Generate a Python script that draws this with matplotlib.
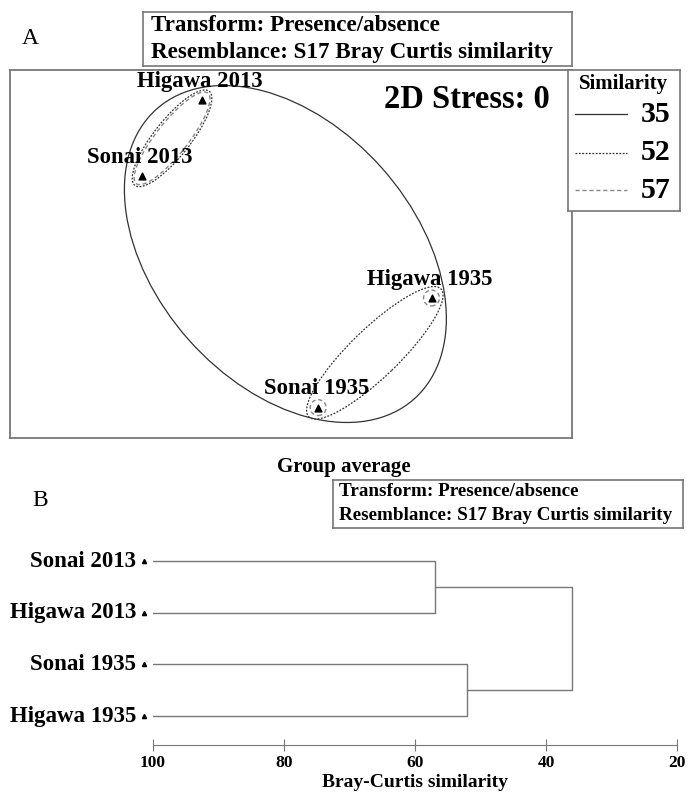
import numpy as np
import matplotlib
matplotlib.use('Agg')
import matplotlib.pyplot as plt
from matplotlib.patches import Ellipse

plt.rcParams['font.family'] = ['Liberation Serif', 'DejaVu Serif']

W, H = 688, 793

# nMDS ordination (panel A)
sites = ['Higawa 2013', 'Sonai 2013', 'Higawa 1935', 'Sonai 1935']
mds_x = [-0.475, -0.795, 0.75, 0.145]
mds_y = [0.82, 0.415, -0.235, -0.82]
stress = 0

# cluster dendrogram (panel B), top to bottom
leaves = ['Sonai 2013', 'Higawa 2013', 'Sonai 1935', 'Higawa 1935']
join_2013 = 57.0
join_1935 = 52.1
join_all = 36.1
sim_levels = [35, 52, 57]
sim_ticks = [100, 80, 60, 40, 20]

GREY = '#777777'
fig = plt.figure(figsize=(W / 100, H / 100), dpi=100)


def fbox(x0, y0, x1, y1):
    # pixel box (top-left origin) -> figure fraction rect
    return [x0 / W, 1 - y1 / H, (x1 - x0) / W, (y1 - y0) / H]


def text_box(x0, y0, x1, y1, lines, size):
    bx = fig.add_axes(fbox(x0, y0, x1, y1))
    bx.set_xticks([])
    bx.set_yticks([])
    for s in bx.spines.values():
        s.set_edgecolor(GREY)
        s.set_linewidth(1.2)
    n = len(lines)
    for i, t in enumerate(lines):
        bx.text(0.018, 1 - (i + 0.5) / n, t, transform=bx.transAxes, ha='left', va='center',
                fontsize=size, fontweight='bold')
    return bx


style = {35: dict(color='#333333', ls='-', lw=0.9),
         52: dict(color='#333333', ls=(0, (1.5, 1.2)), lw=0.9),
         57: dict(color='#888888', ls=(0, (3, 2)), lw=1.0)}

# ---------- panel A ----------
fig.text(30 / W, 1 - 38 / H, 'A', fontsize=17, ha='center', va='center')
text_box(143, 12, 572, 66, ['Transform: Presence/absence', 'Resemblance: S17 Bray Curtis similarity'], 16.6)

ax = fig.add_axes(fbox(10, 70, 572, 438))
ax.set_xlim(-1.5, 1.5)
ax.set_ylim(-0.9822, 0.9822)
ax.set_xticks([])
ax.set_yticks([])
for s in ax.spines.values():
    s.set_edgecolor(GREY)
    s.set_linewidth(1.3)

ax.scatter(mds_x, mds_y, marker='^', s=24, color='black', zorder=5)


def pair_ellipse(i, j, pad_long, pad_short, level):
    x = np.array([mds_x[i], mds_x[j]])
    y = np.array([mds_y[i], mds_y[j]])
    half = np.hypot(x[1] - x[0], y[1] - y[0]) / 2
    ang = np.degrees(np.arctan2(y[1] - y[0], x[1] - x[0]))
    e = Ellipse((x.mean(), y.mean()), 2 * (half + pad_long), 2 * pad_short, angle=ang,
                fill=False, **style[level])
    ax.add_patch(e)


# 2013 samples joined at 57 and at 52
pair_ellipse(1, 0, 0.05, 0.085, 57)
pair_ellipse(1, 0, 0.062, 0.097, 52)
# 1935 samples joined at 52, separate at 57
pair_ellipse(3, 2, 0.07, 0.13, 52)
for k in (2, 3):
    ax.add_patch(Ellipse((mds_x[k], mds_y[k]), 0.085, 0.085, fill=False, **style[57]))
# everything joined at 35
ax.add_patch(Ellipse((-0.03, 0.0), 2.07, 1.38, angle=-48.4, fill=False, **style[35]))

for name, x, y in zip(sites, mds_x, mds_y):
    ax.text(x - 0.01, y + 0.1, name, ha='center', va='center', fontsize=16.4, fontweight='bold')

ax.text(0.961, 0.92, f'2D Stress: {stress}', transform=ax.transAxes, ha='right', va='center',
        fontsize=23.5, fontweight='bold')

# similarity legend
lg = fig.add_axes(fbox(568, 70, 680, 211))
lg.set_xlim(568, 680)
lg.set_ylim(211, 70)
lg.set_xticks([])
lg.set_yticks([])
for s in lg.spines.values():
    s.set_edgecolor(GREY)
    s.set_linewidth(1.2)
lg.text(624, 84, 'Similarity', ha='center', va='center', fontsize=15, fontweight='bold')
for lev, yy in zip(sim_levels, [114, 153, 190]):
    lg.plot([575, 627], [yy, yy], **style[lev])
    lg.text(671, yy, str(lev), ha='right', va='center', fontsize=21.5, fontweight='bold')

# ---------- panel B ----------
fig.text(344 / W, 1 - 467 / H, 'Group average', fontsize=15, fontweight='bold', ha='center', va='center')
fig.text(40 / W, 1 - 500 / H, 'B', fontsize=17, ha='center', va='center')
text_box(333, 480, 683, 528, ['Transform: Presence/absence', 'Resemblance: S17 Bray Curtis similarity'], 13.8)

bx = fig.add_axes(fbox(153, 540, 677, 745))
bx.set_xlim(100, 20)
bx.set_ylim(-0.56, 3.41)
for side in ('top', 'right', 'left'):
    bx.spines[side].set_visible(False)
bx.spines['bottom'].set_color(GREY)
bx.set_yticks([])
bx.set_xticks(sim_ticks)
bx.set_xticklabels([str(t) for t in sim_ticks], fontweight='bold', fontsize=12.5)
bx.tick_params(axis='x', direction='inout', length=9, color=GREY, pad=3)
bx.set_xlabel('Bray-Curtis similarity', fontsize=14, fontweight='bold', labelpad=2)

ypos = [3, 2, 1, 0]
lc = dict(color=GREY, lw=1.0)
for name, y in zip(leaves, ypos):
    bx.text(102.6, y, name, ha='right', va='center', fontsize=16.5, fontweight='bold', clip_on=False)
    bx.plot([101.3], [y], marker='^', ms=3, color='black', clip_on=False)
# 2013 pair
bx.plot([100, join_2013, join_2013, 100], [3, 3, 2, 2], **lc)
# 1935 pair
bx.plot([100, join_1935, join_1935, 100], [1, 1, 0, 0], **lc)
# top join
bx.plot([join_2013, join_all, join_all, join_1935], [2.5, 2.5, 0.5, 0.5], **lc)

fig.savefig('out.png', dpi=100)
